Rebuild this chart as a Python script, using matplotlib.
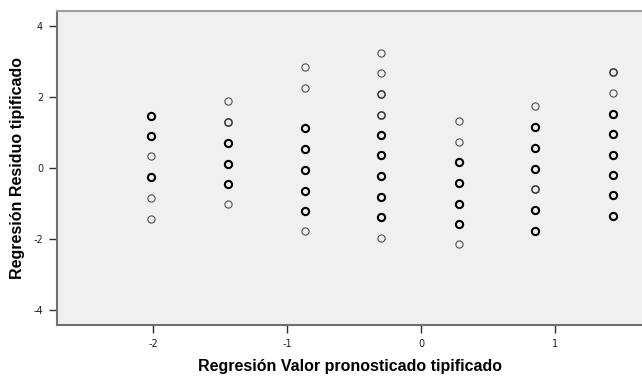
import matplotlib
matplotlib.use("Agg")
import matplotlib.pyplot as plt

plt.rcParams["axes.unicode_minus"] = False

# predicted values (x) per column and standardized residuals (y)
x_pred = [-2.02, -1.445, -0.87, -0.30, 0.28, 0.85, 1.43]

resid = [
    [1.47, 0.89, 0.32, -0.27, -0.84, -1.43],
    [1.88, 1.29, 0.71, 0.12, -0.45, -1.03],
    [2.85, 2.26, 1.11, 0.53, -0.06, -0.64, -1.21, -1.79],
    [3.25, 2.67, 2.08, 1.50, 0.93, 0.35, -0.23, -0.81, -1.40, -1.97],
    [1.32, 0.74, 0.16, -0.42, -1.01, -1.58, -2.16],
    [1.73, 1.14, 0.56, -0.03, -0.60, -1.19, -1.77],
    [2.70, 2.11, 1.53, 0.95, 0.37, -0.21, -0.78, -1.36],
]

# number of cases overlapping at each point (drawn heavier)
counts = [
    [3, 3, 1, 3, 1, 1],
    [1, 2, 3, 3, 3, 1],
    [1, 1, 3, 3, 3, 3, 3, 1],
    [1, 1, 2, 2, 3, 3, 3, 3, 3, 1],
    [1, 1, 3, 3, 3, 3, 1],
    [1, 3, 3, 3, 2, 3, 3],
    [2, 1, 3, 3, 3, 3, 3, 3],
]

xticks = [-2, -1, 0, 1]
yticks = [-4, -2, 0, 2, 4]

fig = plt.figure(figsize=(6.42, 3.76), dpi=100)
ax = fig.add_axes([57 / 642, 51 / 376, 1 - 57 / 642, 314 / 376])
ax.set_facecolor("#F0F0F0")

edge = {1: 0.8, 2: 1.1, 3: 1.5}
shade = {1: "#505050", 2: "#303030", 3: "#000000"}
for xv, ys, cs in zip(x_pred, resid, counts):
    for yv, c in zip(ys, cs):
        ax.plot(xv, yv, "o", ms=5.2, mfc="none", mec=shade[c], mew=edge[c])

ax.set_xlim(-2.72, 1.65)
ax.set_ylim(-4.43, 4.42)
ax.set_xticks(xticks)
ax.set_yticks(yticks)
ax.tick_params(labelsize=7, length=6, width=1, color="#303030", pad=4,
               labelcolor="#202020")

ax.spines["right"].set_visible(False)
ax.spines["top"].set_color("#A0A0A0")
ax.spines["top"].set_linewidth(1.5)
for s in ["left", "bottom"]:
    ax.spines[s].set_color("#707070")
    ax.spines[s].set_linewidth(1.5)

ax.set_xlabel("Regresión Valor pronosticado tipificado", fontsize=11.5,
              fontweight="bold", family="Liberation Sans", labelpad=7)
ax.set_ylabel("Regresión Residuo tipificado", fontsize=11.5,
              fontweight="bold", family="Liberation Sans", labelpad=6)

fig.savefig("out.png", dpi=100)
